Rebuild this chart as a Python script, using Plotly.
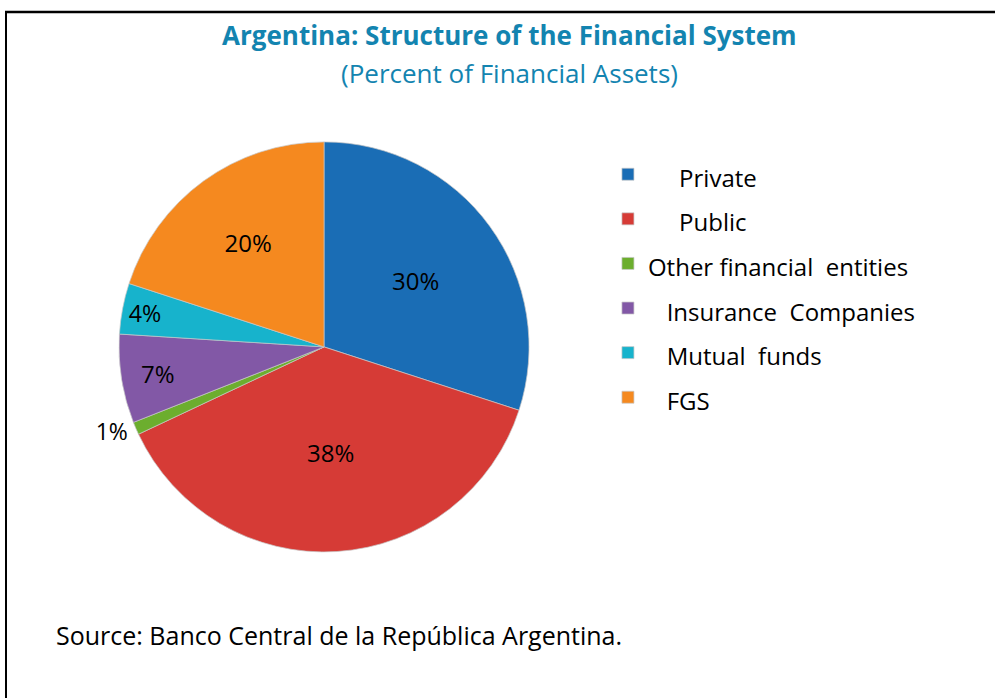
import plotly.graph_objects as go

# Shares of financial assets by type of institution (percent)
categories = ["Private", "Public", "Other financial entities",
              "Insurance Companies", "Mutual funds", "FGS"]
NB = "\u00a0"
legend_labels = [NB * 5 + "Private", NB * 5 + "Public",
                 "Other financial" + NB + " entities",
                 NB * 3 + "Insurance" + NB + " Companies",
                 NB * 3 + "Mutual" + NB + " funds", NB * 3 + "FGS"]
shares = [30, 38, 1, 7, 4, 20]
colors = ["#1a6db5", "#d63b36", "#6cae2e", "#8258a6", "#17b3cc", "#f5891f"]
text_positions = ["inside", "inside", "outside", "inside", "inside", "inside"]

FONT = "Open Sans"

fig = go.Figure(
    go.Pie(
        labels=[f"<span style='font-size:24px'>{t}</span>" for t in legend_labels],
        values=shares,
        sort=False,
        direction="clockwise",
        rotation=0,
        marker=dict(colors=colors, line=dict(color="rgba(200,200,200,0.7)", width=1)),
        texttemplate="%{value}%",
        textposition=text_positions,
        insidetextorientation="horizontal",
        textfont=dict(family=FONT, size=24, color="#000000"),
        outsidetextfont=dict(family=FONT, size=23, color="#000000"),
        domain=dict(x=[0.1196, 0.5317], y=[0.209, 0.797]),
        hoverinfo="skip",
    )
)

fig.update_layout(
    width=995,
    height=698,
    margin=dict(l=0, r=0, t=0, b=0),
    paper_bgcolor="white",
    plot_bgcolor="white",
    font=dict(family=FONT, color="#000000"),
    showlegend=True,
    legend=dict(
        x=0.611, y=0.7895, xanchor="left", yanchor="top",
        font=dict(family=FONT, size=32, color="#000000"),
        bgcolor="rgba(0,0,0,0)",
    ),
    annotations=[
        dict(text="<b>Argentina: Structure of the Financial System</b>",
             x=0.512, y=1 - 35 / 698, xref="paper", yref="paper",
             yanchor="middle", showarrow=False,
             font=dict(family=FONT, size=26, color="#1384b0")),
        dict(text="(Percent of Financial Assets)",
             x=0.512, y=1 - 73 / 698, xref="paper", yref="paper",
             yanchor="middle", showarrow=False,
             font=dict(family=FONT, size=26, color="#1384b0")),
        dict(text="Source: Banco Central de la República Argentina.",
             x=54 / 995, y=1 - 635 / 698, xref="paper", yref="paper",
             xanchor="left", yanchor="middle", showarrow=False,
             font=dict(family=FONT, size=25, color="#000000")),
    ],
    shapes=[
        dict(type="line", xref="paper", yref="paper",
             x0=5 / 995, x1=1.0, y0=1 - 12 / 698, y1=1 - 12 / 698,
             line=dict(color="black", width=2.5)),
        dict(type="line", xref="paper", yref="paper",
             x0=6 / 995, x1=6 / 995, y0=1 - 12 / 698, y1=0,
             line=dict(color="black", width=2)),
    ],
)

fig.write_html("out.html")
